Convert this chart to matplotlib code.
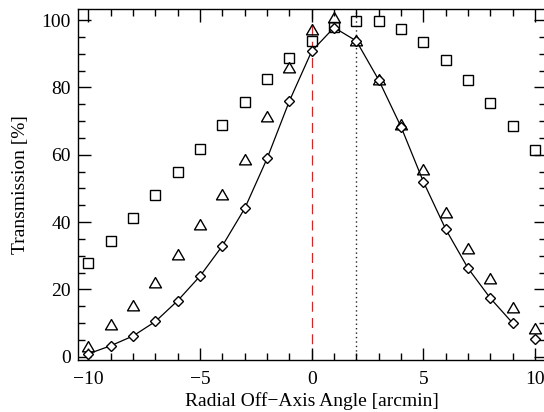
import matplotlib
matplotlib.use("Agg")
import matplotlib.pyplot as plt
from matplotlib.ticker import MultipleLocator

angle = [-10, -9, -8, -7, -6, -5, -4, -3, -2, -1, 0, 1, 2, 3, 4, 5, 6, 7, 8, 9, 10]

trans_square = [27.8, 34.4, 41.2, 48.0, 54.8, 61.7, 68.7, 75.8, 82.5, 88.6, 93.9,
                98.0, 99.7, 99.7, 97.4, 93.6, 88.3, 82.2, 75.5, 68.5, 61.4]
trans_triangle = [3.0, 9.3, 15.2, 22.0, 30.3, 39.2, 48.1, 58.5, 71.3, 85.7, 97.0,
                  100.5, 93.8, 82.2, 68.8, 55.5, 42.6, 32.0, 23.0, 14.6, 8.2]
trans_diamond = [0.9, 3.3, 6.2, 10.5, 16.7, 24.0, 33.0, 44.1, 58.9, 76.0, 90.8,
                 97.8, 93.8, 82.2, 68.3, 52.0, 37.9, 26.3, 17.4, 10.0, 5.2]

# curve through the diamond points, up to 9 arcmin
curve_x = angle[:-1]
curve_y = trans_diamond[:-1]

x_axis = [0.0, 2.0]

plt.rcParams['font.family'] = ['Liberation Serif', 'DejaVu Serif']

fig = plt.figure(figsize=(5.44, 4.12), dpi=100)
W, H = 544.0, 412.0
left, right, top, bottom = 78, 545.5, 9, 359.5
ax = fig.add_axes([left / W, 1 - bottom / H, (right - left) / W, (bottom - top) / H])

ax.axvline(x_axis[0], color='#d02828', lw=0.9, ls=(0, (8, 5)), zorder=1)
ax.axvline(x_axis[1], color='#222222', lw=1.0, ls=(0, (1, 2.2)), zorder=1)

# open equilateral triangle marker
tri = [(0.0, 1.0), (-1.0, -0.73), (1.0, -0.73), (0.0, 1.0)]

ax.plot(curve_x, curve_y, color='black', lw=0.9, zorder=2)
ax.plot(angle, trans_square, ls='none', marker='s', ms=7.7, mfc='none',
        mec='black', mew=1.0, zorder=3)
ax.plot(angle, trans_triangle, ls='none', marker=tri, ms=8.6, mfc='none',
        mec='black', mew=1.0, zorder=3)
ax.plot(angle, trans_diamond, ls='none', marker='D', ms=5.0, mfc='white',
        mec='black', mew=1.0, zorder=4)

ax.set_xlim(-10.47, 10.47)
ax.set_ylim(-0.8, 103.3)

ax.xaxis.set_major_locator(MultipleLocator(5))
ax.xaxis.set_minor_locator(MultipleLocator(1))
ax.yaxis.set_major_locator(MultipleLocator(20))
ax.yaxis.set_minor_locator(MultipleLocator(5))
ax.tick_params(which='both', direction='in', top=True, right=True,
               labelsize=14, width=1.0, color='black')
ax.tick_params(axis='x', which='both', pad=8)
ax.tick_params(axis='y', which='both', pad=5)
ax.tick_params(which='major', length=9)
ax.tick_params(which='minor', length=5)
for s in ax.spines.values():
    s.set_linewidth(1.0)

ax.set_xlabel('Radial Off\u2212Axis Angle [arcmin]', fontsize=14, labelpad=3)
ax.set_ylabel('Transmission [%]', fontsize=14, labelpad=9)

fig.savefig('out.png', dpi=100)
